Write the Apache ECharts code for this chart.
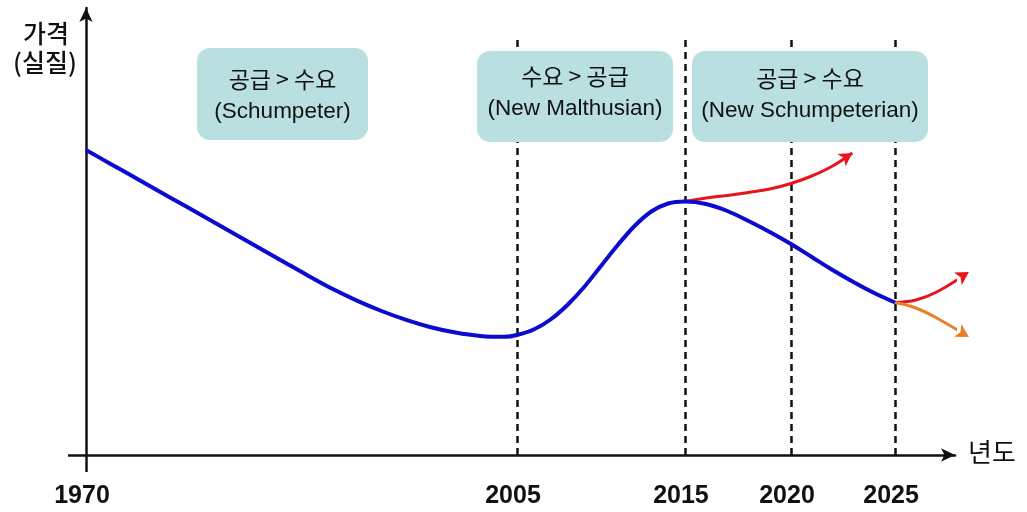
<!DOCTYPE html>
<html>
<head>
<meta charset="utf-8">
<script src="https://cdn.jsdelivr.net/npm/echarts@6/dist/echarts.min.js"></script>
<style>
  html, body { margin: 0; padding: 0; background: #ffffff; }
  #chart { width: 1027px; height: 512px; }
</style>
</head>
<body>
<div id="chart"></div>
<script>
// ---- data ---------------------------------------------------------------
// Years marked under the time axis
const tickYears = [1970, 2005, 2015, 2020, 2025];

// Real price path (relative index) by year
const mainYears = [1970, 1972, 1974, 1976, 1978, 1980, 1982, 1984, 1986, 1988, 1990, 1992, 1994,
                   1996, 1998, 2000, 2002, 2004, 2005, 2006, 2007, 2008, 2009, 2010, 2011, 2012,
                   2013, 2014, 2015, 2016, 2017, 2018, 2019, 2020, 2021, 2022, 2023, 2024, 2025];
const mainPrice = [305, 291.1, 277.2, 263.3, 249.4, 235.5, 221.6, 207.6, 193.6, 179.6, 166.2, 154.4, 144,
                   135.1, 127.8, 122.5, 119.1, 118.2, 120, 125.5, 135.5, 150, 168, 189, 210, 229,
                   243.5, 251.5, 253.5, 251, 244, 234, 223, 211, 198, 185, 173, 162, 152.5];

// Upward scenario starting 2015
const rise15Years = [2015, 2016, 2017, 2018, 2019, 2020, 2021, 2022, 2022.95];
const rise15Price = [253.5, 257, 259.5, 262.5, 266, 271.5, 279, 289, 302];

// Scenarios starting 2025
const rise25Years = [2025, 2026, 2027, 2028.55];
const rise25Price = [152.5, 155, 163, 183];
const fall25Years = [2025, 2026, 2027, 2028.55];
const fall25Price = [152.5, 147, 137, 118];

// Market regimes shown in the boxes
const regimeTitles = ['공급 > 수요', '수요 > 공급', '공급 > 수요'];
const regimeNames = ['(Schumpeter)', '(New Malthusian)', '(New Schumpeterian)'];

// Vertical guide years
const guideYears = [2005, 2015, 2020, 2025];

// ---- stretched time axis ------------------------------------------------
// The time axis is drawn stretched after 2005; axis units at each tick year.
const axisStops = [0, 35, 48.64, 57.25, 65.70];
function toAxis(year) {
  const n = tickYears.length;
  for (let i = 0; i < n - 1; i++) {
    if (year <= tickYears[i + 1]) {
      const t = (year - tickYears[i]) / (tickYears[i + 1] - tickYears[i]);
      return axisStops[i] + t * (axisStops[i + 1] - axisStops[i]);
    }
  }
  const slope = (axisStops[n - 1] - axisStops[n - 2]) / (tickYears[n - 1] - tickYears[n - 2]);
  return axisStops[n - 1] + (year - tickYears[n - 1]) * slope;
}
function pairs(years, vals) {
  return years.map((y, i) => [toAxis(y), vals[i]]);
}

const LFONT = '"Liberation Sans", "Noto Sans CJK KR", sans-serif';
const KFONT = '"Noto Sans CJK KR", sans-serif';
const AXIS_COLOR = '#111111';

const chart = echarts.init(document.getElementById('chart'), null, { renderer: 'canvas' });

function branch(name, years, vals, color) {
  const data = pairs(years, vals).map((p, i, arr) => {
    if (i === arr.length - 1) {
      return { value: p, symbol: 'arrow', symbolSize: [11, 13] };
    }
    return { value: p, symbol: 'none' };
  });
  return {
    name: name,
    type: 'line',
    smooth: 0.4,
    clip: false,
    data: data,
    showSymbol: true,
    itemStyle: { color: color },
    lineStyle: { color: color, width: 3 },
    z: 3
  };
}

// Regime boxes (pixel layout)
const boxes = [
  { x: 197, y: 48, w: 171, h: 92, t1: 79, t2: 112 },
  { x: 477, y: 51, w: 196, h: 91, t1: 76, t2: 109 },
  { x: 692, y: 51, w: 236, h: 91, t1: 78, t2: 111 }
];
const boxGraphics = [];
boxes.forEach((b, i) => {
  boxGraphics.push({
    type: 'rect', z: 100,
    shape: { x: b.x, y: b.y, width: b.w, height: b.h, r: 13 },
    style: { fill: '#b9dfe1' }
  });
  boxGraphics.push({
    type: 'text', z: 101,
    x: b.x + b.w / 2, y: b.t1,
    style: { text: regimeTitles[i], fill: '#111', font: '23px ' + KFONT,
             align: 'center', verticalAlign: 'middle' }
  });
  boxGraphics.push({
    type: 'text', z: 101,
    x: b.x + b.w / 2, y: b.t2,
    style: { text: regimeNames[i], fill: '#111', font: '22.5px ' + LFONT,
             align: 'center', verticalAlign: 'middle' }
  });
});

const option = {
  animation: false,
  backgroundColor: '#ffffff',
  grid: { left: 86, right: 72, top: 8, bottom: 57, containLabel: false },
  xAxis: {
    type: 'value',
    min: 0,
    max: 70.57,
    splitLine: { show: false },
    axisLine: {
      show: true,
      lineStyle: { color: AXIS_COLOR, width: 2.5 },
      symbol: ['none', 'arrow'],
      symbolSize: [10, 14]
    },
    axisTick: { show: true, customValues: [0], length: 17, lineStyle: { color: AXIS_COLOR, width: 2.5 } },
    axisLabel: {
      show: true,
      customValues: tickYears.map(toAxis),
      formatter: function (v) {
        let best = tickYears[0], d = Infinity;
        tickYears.forEach(y => { const e = Math.abs(toAxis(y) - v); if (e < d) { d = e; best = y; } });
        return String(best);
      },
      margin: 29,
      padding: [0, 8, 0, 0],
      color: '#111',
      fontSize: 25,
      fontWeight: 'bold',
      fontFamily: LFONT
    }
  },
  yAxis: {
    type: 'value',
    min: 0,
    max: 447,
    splitLine: { show: false },
    axisLine: {
      show: true,
      lineStyle: { color: AXIS_COLOR, width: 2.5 },
      symbol: ['none', 'arrow'],
      symbolSize: [10, 14]
    },
    axisTick: { show: true, customValues: [0], length: 18, lineStyle: { color: AXIS_COLOR, width: 2.5 } },
    axisLabel: { show: false }
  },
  series: [
    {
      name: 'price',
      type: 'line',
      smooth: 0.3,
      showSymbol: false,
      symbol: 'none',
      data: pairs(mainYears, mainPrice),
      lineStyle: { color: '#0a0ad0', width: 4 },
      z: 4,
      markLine: {
        silent: true,
        symbol: 'none',
        label: { show: false },
        lineStyle: { color: '#111', width: 2.5, type: [7, 5] },
        data: guideYears.map(y => [
          { coord: [toAxis(y), 0] },
          { coord: [toAxis(y), 415] }
        ]),
        z: 1
      }
    },
    branch('rise15', rise15Years, rise15Price, '#e8141c'),
    branch('rise25', rise25Years, rise25Price, '#e8141c'),
    branch('fall25', fall25Years, fall25Price, '#e8802a')
  ],
  graphic: [
    { type: 'text', z: 101, x: 46, y: 33,
      style: { text: '가격', fill: '#111', font: '500 25px ' + KFONT, align: 'center', verticalAlign: 'middle' } },
    { type: 'text', z: 101, x: 45, y: 62,
      style: { text: '(실질)', fill: '#111', font: '500 25px ' + KFONT, align: 'center', verticalAlign: 'middle' } },
    { type: 'text', z: 101, x: 992, y: 452,
      style: { text: '년도', fill: '#111', font: '26px ' + KFONT, align: 'center', verticalAlign: 'middle' } }
  ].concat(boxGraphics)
};

chart.setOption(option);

// Point each branch arrowhead along its final segment
function arrowAngle(p0, p1) {
  const a = chart.convertToPixel({ gridIndex: 0 }, p0);
  const b = chart.convertToPixel({ gridIndex: 0 }, p1);
  return Math.atan2(-(b[1] - a[1]), b[0] - a[0]) * 180 / Math.PI - 90;
}
const updated = option.series.map((s, idx) => {
  if (idx === 0) return {};
  const d = s.data;
  const last = d[d.length - 1], prev = d[d.length - 2];
  last.symbolRotate = arrowAngle(prev.value, last.value);
  return { data: d };
});
chart.setOption({ series: updated });
</script>
</body>
</html>
